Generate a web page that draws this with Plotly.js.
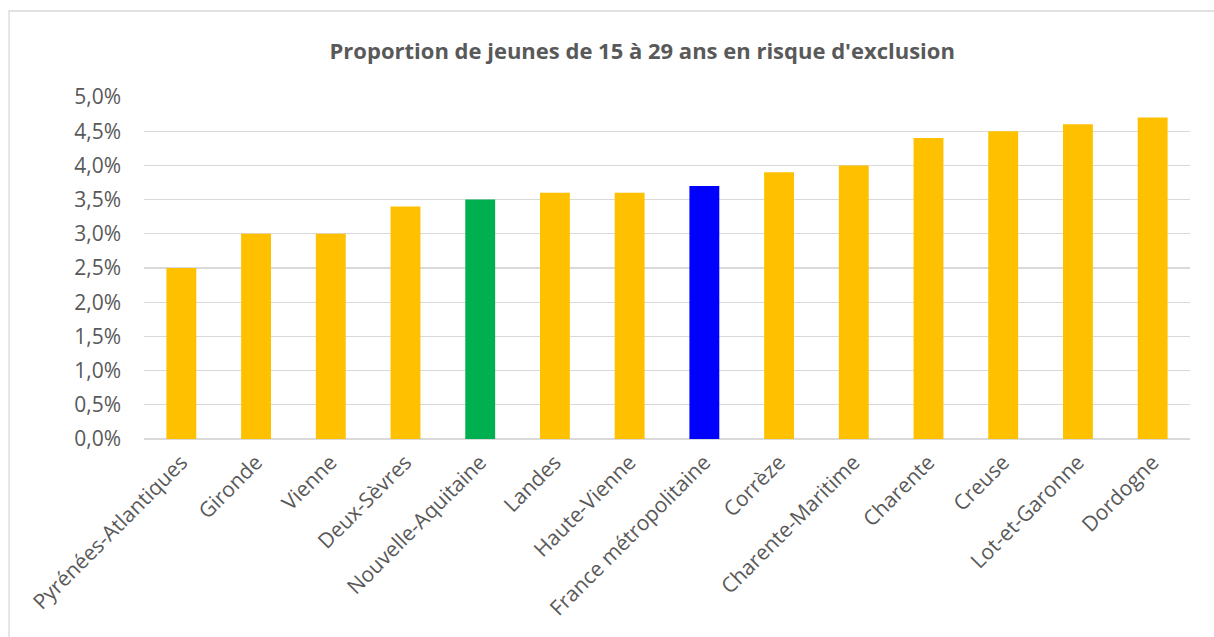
<!DOCTYPE html>
<html>
<head>
<meta charset="utf-8">
<script src="https://cdn.plot.ly/plotly-3.0.1.min.js"></script>
<style>html,body{margin:0;padding:0;background:#fff;}#chart{width:1214px;height:637px;}</style>
</head>
<body>
<div id="chart"></div>
<script>
const categories = ["Pyrénées-Atlantiques","Gironde","Vienne","Deux-Sèvres","Nouvelle-Aquitaine","Landes","Haute-Vienne","France métropolitaine","Corrèze","Charente-Maritime","Charente","Creuse","Lot-et-Garonne","Dordogne"];
const values = [0.025,0.030,0.030,0.034,0.035,0.036,0.036,0.037,0.039,0.040,0.044,0.045,0.046,0.047];
const barColors = ["#FFC000","#FFC000","#FFC000","#FFC000","#00B050","#FFC000","#FFC000","#0000FF","#FFC000","#FFC000","#FFC000","#FFC000","#FFC000","#FFC000"];
const titleText = "Proportion de jeunes de 15 à 29 ans en risque d'exclusion";

const trace = {
  type: 'bar',
  x: categories,
  y: values,
  marker: {color: barColors, line: {width: 0}},
  hoverinfo: 'x+y'
};

const layout = {
  width: 1214, height: 637,
  paper_bgcolor: '#ffffff', plot_bgcolor: '#ffffff',
  separators: ',.',
  margin: {l: 144, r: 24, t: 97, b: 198},
  font: {family: '"Open Sans", sans-serif', color: '#595959', size: 21},
  title: {
    text: '<b>' + titleText + '</b>',
    font: {family: '"Open Sans", sans-serif', size: 22, color: '#595959'},
    x: 0.529, xref: 'container', xanchor: 'center',
    y: 0.919, yref: 'container', yanchor: 'middle'
  },
  bargap: 0.6,
  showlegend: false,
  xaxis: {
    type: 'category',
    tickangle: -45,
    showgrid: false,
    showline: false,
    ticks: '',
    ticklabelstandoff: 6,
    tickfont: {size: 21, color: '#595959'},
    automargin: false
  },
  yaxis: {
    range: [0, 0.05],
    dtick: 0.005,
    tick0: 0,
    tickformat: '.1%',
    showgrid: true,
    gridcolor: '#d9d9d9',
    gridwidth: 1.3,
    zeroline: true,
    zerolinecolor: '#d9d9d9',
    zerolinewidth: 1.3,
    showline: false,
    ticks: '',
    ticklabelstandoff: 22,
    tickfont: {size: 21, color: '#595959'},
    automargin: false
  },
  shapes: [{
    type: 'rect', xref: 'paper', yref: 'paper',
    x0: -0.129, x1: 1.05, y0: -0.7, y1: 1.2515,
    line: {color: '#d9d9d9', width: 1.3},
    fillcolor: 'rgba(0,0,0,0)',
    layer: 'below'
  }]
};

Plotly.newPlot('chart', [trace], layout, {displayModeBar: false, staticPlot: true});
</script>
</body>
</html>
